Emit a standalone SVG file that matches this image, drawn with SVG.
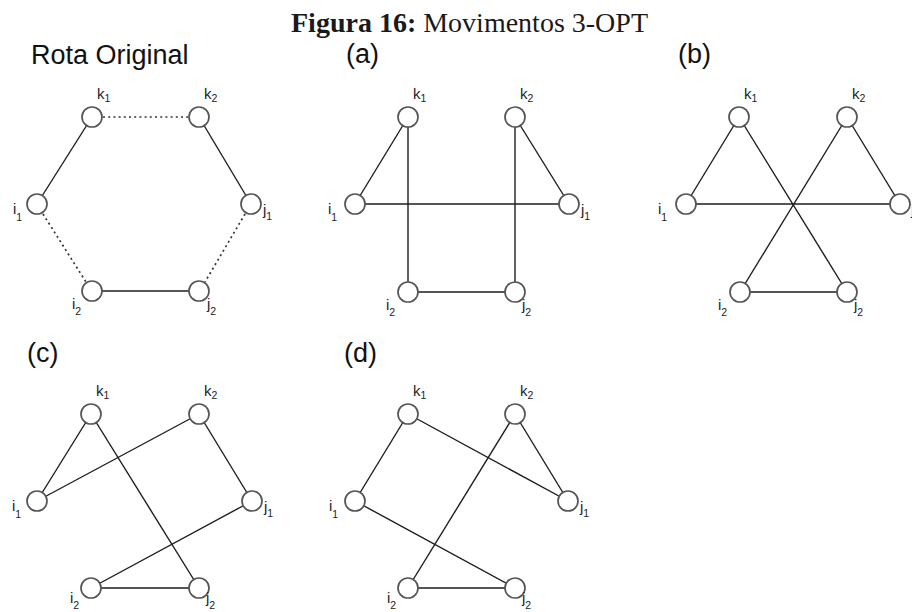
<svg xmlns="http://www.w3.org/2000/svg" width="912" height="612" viewBox="0 0 912 612">
<style>
.bg{fill:#fff}
.title{font-family:"Liberation Serif","Times New Roman",serif;font-size:28px;fill:#1a1a1a}
.panel{font-family:"Liberation Sans",Arial,sans-serif;font-size:27px;fill:#111}
.lbl{font-family:"Liberation Sans",Arial,sans-serif;font-size:15px;fill:#222}
.sub{font-size:10.5px}
.e{stroke:#1e1e1e;stroke-width:1.4;fill:none}
.d{stroke:#333;stroke-width:1.7;fill:none;stroke-dasharray:2 3.2}
.n{fill:#fff;stroke:#555;stroke-width:1.7}
</style>
<rect class="bg" x="0" y="0" width="912" height="612"/>
<text class="title" x="291" y="32"><tspan font-weight="bold">Figura 16:</tspan> Movimentos 3-OPT</text>
<text class="panel" x="31" y="64">Rota Original</text>
<text class="panel" x="346" y="63">(a)</text>
<text class="panel" x="678" y="63">(b)</text>
<text class="panel" x="27" y="362">(c)</text>
<text class="panel" x="344" y="362">(d)</text>

<g id="connectors">
  <!-- Rota Original -->
  <line class="e" x1="92" y1="117" x2="37" y2="204"/>
  <line class="e" x1="199" y1="117" x2="251" y2="204"/>
  <line class="e" x1="92" y1="291" x2="199" y2="291"/>
  <line class="d" x1="103" y1="117" x2="188" y2="117"/>
  <line class="d" x1="43" y1="214" x2="86" y2="282"/>
  <line class="d" x1="245" y1="214" x2="205" y2="282"/>
  <!-- (a) -->
  <line class="e" x1="408" y1="117" x2="355" y2="204"/>
  <line class="e" x1="515" y1="117" x2="569" y2="204"/>
  <line class="e" x1="408" y1="292" x2="515" y2="292"/>
  <line class="e" x1="408" y1="117" x2="408" y2="292"/>
  <line class="e" x1="515" y1="117" x2="515" y2="292"/>
  <line class="e" x1="355" y1="204" x2="569" y2="204"/>
  <!-- (b) -->
  <line class="e" x1="739" y1="117" x2="686" y2="204"/>
  <line class="e" x1="847" y1="117" x2="900" y2="204"/>
  <line class="e" x1="740" y1="292" x2="847" y2="292"/>
  <line class="e" x1="739" y1="117" x2="847" y2="292"/>
  <line class="e" x1="847" y1="117" x2="740" y2="292"/>
  <line class="e" x1="686" y1="204" x2="900" y2="204"/>
  <!-- (c) -->
  <line class="e" x1="91" y1="414" x2="37" y2="501"/>
  <line class="e" x1="199" y1="414" x2="252" y2="501"/>
  <line class="e" x1="91" y1="588" x2="199" y2="588"/>
  <line class="e" x1="91" y1="414" x2="199" y2="588"/>
  <line class="e" x1="37" y1="501" x2="199" y2="414"/>
  <line class="e" x1="252" y1="501" x2="91" y2="588"/>
  <!-- (d) -->
  <line class="e" x1="408" y1="414" x2="355" y2="501"/>
  <line class="e" x1="515" y1="414" x2="568" y2="501"/>
  <line class="e" x1="408" y1="588" x2="515" y2="588"/>
  <line class="e" x1="408" y1="414" x2="568" y2="501"/>
  <line class="e" x1="515" y1="414" x2="408" y2="588"/>
  <line class="e" x1="355" y1="501" x2="515" y2="588"/>
</g>

<!-- Rota Original -->
<g id="orig-k1"><circle class="n" cx="92" cy="117" r="10"/><text class="lbl" x="97" y="99">k<tspan class="sub" dy="3">1</tspan></text></g>
<g id="orig-k2"><circle class="n" cx="199" cy="117" r="10"/><text class="lbl" x="204" y="99">k<tspan class="sub" dy="3">2</tspan></text></g>
<g id="orig-i1"><circle class="n" cx="37" cy="204" r="10"/><text class="lbl" x="13" y="214">i<tspan class="sub" dy="7">1</tspan></text></g>
<g id="orig-j1"><circle class="n" cx="251" cy="204" r="10"/><text class="lbl" x="263" y="215">j<tspan class="sub" dy="5">1</tspan></text></g>
<g id="orig-i2"><circle class="n" cx="92" cy="291" r="10"/><text class="lbl" x="72" y="309">i<tspan class="sub" dy="6">2</tspan></text></g>
<g id="orig-j2"><circle class="n" cx="199" cy="291" r="10"/><text class="lbl" x="207" y="309">j<tspan class="sub" dy="6">2</tspan></text></g>

<!-- (a) -->
<g id="a-k1"><circle class="n" cx="408" cy="117" r="10"/><text class="lbl" x="413" y="99">k<tspan class="sub" dy="3">1</tspan></text></g>
<g id="a-k2"><circle class="n" cx="515" cy="117" r="10"/><text class="lbl" x="520" y="99">k<tspan class="sub" dy="3">2</tspan></text></g>
<g id="a-i1"><circle class="n" cx="355" cy="204" r="10"/><text class="lbl" x="328" y="214">i<tspan class="sub" dy="7">1</tspan></text></g>
<g id="a-j1"><circle class="n" cx="569" cy="204" r="10"/><text class="lbl" x="581" y="215">j<tspan class="sub" dy="5">1</tspan></text></g>
<g id="a-i2"><circle class="n" cx="408" cy="292" r="10"/><text class="lbl" x="386" y="310">i<tspan class="sub" dy="6">2</tspan></text></g>
<g id="a-j2"><circle class="n" cx="515" cy="292" r="10"/><text class="lbl" x="522" y="310">j<tspan class="sub" dy="6">2</tspan></text></g>

<!-- (b) -->
<g id="b-k1"><circle class="n" cx="739" cy="117" r="10"/><text class="lbl" x="744" y="99">k<tspan class="sub" dy="3">1</tspan></text></g>
<g id="b-k2"><circle class="n" cx="847" cy="117" r="10"/><text class="lbl" x="852" y="99">k<tspan class="sub" dy="3">2</tspan></text></g>
<g id="b-i1"><circle class="n" cx="686" cy="204" r="10"/><text class="lbl" x="658" y="214">i<tspan class="sub" dy="7">1</tspan></text></g>
<g id="b-j1"><circle class="n" cx="900" cy="204" r="10"/><text class="lbl" x="911" y="215">j<tspan class="sub" dy="5">1</tspan></text></g>
<g id="b-i2"><circle class="n" cx="740" cy="292" r="10"/><text class="lbl" x="718" y="310">i<tspan class="sub" dy="6">2</tspan></text></g>
<g id="b-j2"><circle class="n" cx="847" cy="292" r="10"/><text class="lbl" x="854" y="310">j<tspan class="sub" dy="6">2</tspan></text></g>

<!-- (c) -->
<g id="c-k1"><circle class="n" cx="91" cy="414" r="10"/><text class="lbl" x="96" y="396">k<tspan class="sub" dy="3">1</tspan></text></g>
<g id="c-k2"><circle class="n" cx="199" cy="414" r="10"/><text class="lbl" x="204" y="396">k<tspan class="sub" dy="3">2</tspan></text></g>
<g id="c-i1"><circle class="n" cx="37" cy="501" r="10"/><text class="lbl" x="12" y="511">i<tspan class="sub" dy="7">1</tspan></text></g>
<g id="c-j1"><circle class="n" cx="252" cy="501" r="10"/><text class="lbl" x="264" y="512">j<tspan class="sub" dy="5">1</tspan></text></g>
<g id="c-i2"><circle class="n" cx="91" cy="588" r="10"/><text class="lbl" x="70" y="603">i<tspan class="sub" dy="6">2</tspan></text></g>
<g id="c-j2"><circle class="n" cx="199" cy="588" r="10"/><text class="lbl" x="206" y="603">j<tspan class="sub" dy="6">2</tspan></text></g>

<!-- (d) -->
<g id="d-k1"><circle class="n" cx="408" cy="414" r="10"/><text class="lbl" x="413" y="396">k<tspan class="sub" dy="3">1</tspan></text></g>
<g id="d-k2"><circle class="n" cx="515" cy="414" r="10"/><text class="lbl" x="520" y="396">k<tspan class="sub" dy="3">2</tspan></text></g>
<g id="d-i1"><circle class="n" cx="355" cy="501" r="10"/><text class="lbl" x="329" y="511">i<tspan class="sub" dy="7">1</tspan></text></g>
<g id="d-j1"><circle class="n" cx="568" cy="501" r="10"/><text class="lbl" x="580" y="512">j<tspan class="sub" dy="5">1</tspan></text></g>
<g id="d-i2"><circle class="n" cx="408" cy="588" r="10"/><text class="lbl" x="387" y="603">i<tspan class="sub" dy="6">2</tspan></text></g>
<g id="d-j2"><circle class="n" cx="515" cy="588" r="10"/><text class="lbl" x="522" y="603">j<tspan class="sub" dy="6">2</tspan></text></g>
</svg>
